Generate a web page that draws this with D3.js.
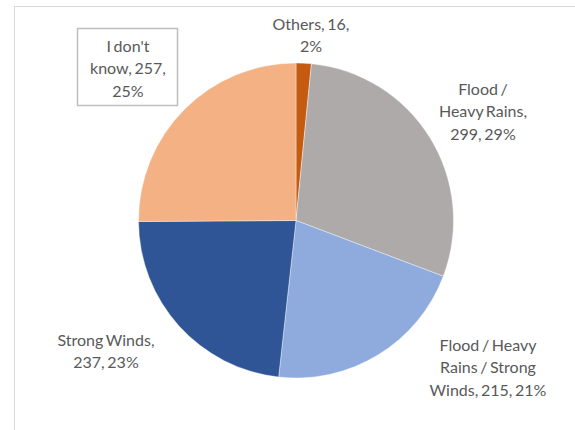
<!DOCTYPE html>
<html><head><meta charset="utf-8">
<script src="https://cdn.jsdelivr.net/npm/d3@7"></script>
<style>body{margin:0;background:#fff;}svg{display:block;}</style>
</head><body>
<svg id="c" width="575" height="430"></svg>
<script>
const categories = ["Others", "Flood / Heavy Rains", "Flood / Heavy Rains / Strong Winds", "Strong Winds", "I don't know"];
const values = [16, 299, 215, 237, 257];
const percents = ["2%", "29%", "21%", "23%", "25%"];
const colors = ["#C55A11", "#AEAAAA", "#8FAADC", "#2F5597", "#F4B183"];
const labelLines = [
  ["Others, 16,", "2%"],
  ["Flood /", "Heavy Rains,", "299, 29%"],
  ["Flood / Heavy", "Rains / Strong", "Winds, 215, 21%"],
  ["Strong Winds,", "237, 23%"],
  ["I don't", "know, 257,", "25%"]
];
const labelPos = [[311, 23], [483, 88], [488, 344], [106, 339], [128, 45]];

const svg = d3.select("#c");
svg.append("rect").attr("x", 14.5).attr("y", 6.5).attr("width", 600).attr("height", 500)
  .attr("fill", "none").attr("stroke", "#D9D9D9").attr("stroke-width", 1);

const cx = 296, cy = 220.5, r = 157.5;
const pie = d3.pie().sort(null).value(d => d)(values);
const arc = d3.arc().innerRadius(0).outerRadius(r);
const g = svg.append("g").attr("transform", `translate(${cx},${cy})`);
g.selectAll("path").data(pie).join("path")
  .attr("d", arc).attr("fill", (d, i) => colors[i])
  .attr("stroke", "#fff").attr("stroke-width", 0.4);

// box around "I don't know"
svg.append("rect").attr("x", 77.5).attr("y", 28.5).attr("width", 100).attr("height", 77)
  .attr("fill", "#fff").attr("stroke", "#BFBFBF").attr("stroke-width", 1.5);

labelLines.forEach((lines, i) => {
  const t = svg.append("text")
    .attr("x", labelPos[i][0]).attr("y", labelPos[i][1])
    .attr("text-anchor", "middle").attr("dominant-baseline", "central")
    .attr("font-family", "Lato, 'Open Sans', sans-serif").attr("font-size", 16)
    .attr("fill", "#595959").attr("word-spacing", -1.5);
  lines.forEach((l, j) => {
    t.append("tspan").attr("x", labelPos[i][0]).attr("y", labelPos[i][1] + j * 22.3).text(l);
  });
});
</script>
</body></html>
